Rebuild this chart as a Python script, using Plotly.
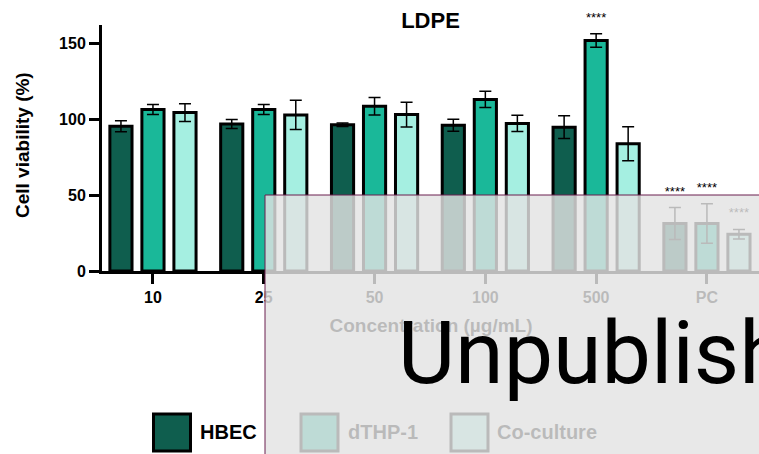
import plotly.graph_objects as go

# ---- data ----
categories = ["10", "25", "50", "100", "500", "PC"]
series_names = ["HBEC", "dTHP-1", "Co-culture"]
series_colors = ["#0f5e4e", "#1ab899", "#a5efe1"]

hbec_mean = [95.3, 96.8, 96.3, 96.0, 94.7, 31.3]
hbec_sd = [3.6, 2.9, 1.2, 4.0, 7.5, 10.5]
dthp1_mean = [106.3, 106.3, 108.5, 113.0, 151.8, 31.3]
dthp1_sd = [3.3, 3.3, 5.8, 5.3, 4.4, 13.0]
coculture_mean = [104.3, 102.8, 103.0, 97.2, 83.8, 24.2]
coculture_sd = [5.8, 9.6, 8.2, 5.3, 11.2, 3.2]

sig_category = ["500", "PC", "PC", "PC"]
sig_series = ["dTHP-1", "HBEC", "dTHP-1", "Co-culture"]
sig_label = ["****", "****", "****", "****"]

y_ticks = [0, 50, 100, 150]
y_max = 162

means = [hbec_mean, dthp1_mean, coculture_mean]
sds = [hbec_sd, dthp1_sd, coculture_sd]

# ---- figure geometry (pixels) ----
W, H = 759, 454
PLOT_L, PLOT_T, PLOT_B = 102, 25, 271   # plot area edges


def fx(p):
    return p / W


def fy(p):
    return 1 - p / H


SLOT = 0.289
BAR_W = 0.2
FONT = "Arial, Liberation Sans, sans-serif"

fig = go.Figure()

for k, name in enumerate(series_names):
    xs = [i + (k - 1) * SLOT for i in range(len(categories))]
    fig.add_trace(go.Bar(
        x=xs, y=means[k], width=BAR_W, name=name,
        marker=dict(color=series_colors[k], line=dict(color="black", width=3)),
        error_y=dict(type="data", array=sds[k], visible=True,
                     color="black", thickness=1.5, width=6),
    ))

# significance marks above error bars (y3 shares the value scale of y,
# but its domain runs up to the top edge so marks above y_max still show)
sx, sy = [], []
for c, s in zip(sig_category, sig_series):
    i = categories.index(c)
    k = series_names.index(s)
    sx.append(i + (k - 1) * SLOT)
    sy.append(means[k][i] + sds[k][i] + 10)
fig.add_trace(go.Scatter(
    x=sx, y=sy, mode="text", text=sig_label, cliponaxis=False,
    textfont=dict(family=FONT, size=13, color="black"),
    xaxis="x", yaxis="y3", hoverinfo="skip",
))

# x-axis title and legend on a full-figure pixel axis
fig.add_trace(go.Scatter(
    x=[431], y=[327], mode="text", text=["Concentration (µg/mL)"],
    textfont=dict(family=FONT, size=19, color="black", weight="bold"),
    xaxis="x2", yaxis="y2", cliponaxis=False, hoverinfo="skip",
))
leg_sq_x = [172, 319.5, 469.5]
leg_txt_x = [200, 348, 497]
fig.add_trace(go.Scatter(
    x=leg_sq_x, y=[432.5] * 3, mode="markers",
    marker=dict(symbol="square", size=37, color=series_colors,
                line=dict(color="black", width=3)),
    xaxis="x2", yaxis="y2", cliponaxis=False, hoverinfo="skip",
))
fig.add_trace(go.Scatter(
    x=leg_txt_x, y=[434] * 3, mode="text", text=series_names,
    textposition="middle right",
    textfont=dict(family=FONT, size=20, color="black", weight="bold"),
    xaxis="x2", yaxis="y2", cliponaxis=False, hoverinfo="skip",
))

axis_style = dict(
    showline=True, linewidth=3, linecolor="black",
    ticks="outside", ticklen=10, tickwidth=3, tickcolor="black",
    showgrid=False, zeroline=False,
    tickfont=dict(family=FONT, size=16, color="black", weight="bold"),
)

y_dom = [fy(PLOT_B), fy(PLOT_T)]
y3_top = y_max * PLOT_B / (PLOT_B - PLOT_T)

fig.update_layout(
    width=W, height=H,
    margin=dict(l=0, r=0, t=0, b=0, pad=0, autoexpand=False),
    paper_bgcolor="white", plot_bgcolor="rgba(0,0,0,0)",
    showlegend=False, barmode="overlay",
    title=dict(text="LDPE", x=fx(PLOT_L) + (1 - fx(PLOT_L)) / 2,
               xref="paper", xanchor="center",
               y=fy(20), yref="container", yanchor="middle",
               font=dict(family=FONT, size=22, color="black", weight="bold")),
    xaxis=dict(domain=[fx(PLOT_L), 1], range=[-0.46, 5.47], tickmode="array",
               tickvals=list(range(len(categories))), ticktext=categories,
               anchor="y", **axis_style),
    yaxis=dict(domain=y_dom, range=[0, y_max], tickmode="array",
               tickvals=y_ticks, anchor="x", **axis_style),
    yaxis3=dict(domain=[fy(PLOT_B), 1], range=[0, y3_top], anchor="x",
                visible=False),
    xaxis2=dict(domain=[0, 1], range=[0, W], anchor="y2", visible=False),
    yaxis2=dict(domain=[0, 1], range=[H, 0], anchor="x2", visible=False),
    shapes=[dict(
        type="rect", xref="paper", yref="paper", layer="above",
        x0=fx(265), x1=1.5, y0=-0.5, y1=fy(195),
        fillcolor="rgba(227,227,227,0.82)",
        line=dict(color="#6b1f4f", width=1),
    )],
    annotations=[
        dict(text="Cell viability (%)", textangle=-90, showarrow=False,
             xref="paper", yref="paper", x=fx(23), y=fy(145),
             xanchor="center", yanchor="middle",
             font=dict(family=FONT, size=19, color="black", weight="bold")),
        dict(text="Unpublished", showarrow=False,
             xref="paper", yref="paper", x=fx(396), y=fy(352),
             xanchor="left", yanchor="middle",
             font=dict(family="Roboto", size=88, color="black")),
    ],
)

fig.write_html("out.html")
